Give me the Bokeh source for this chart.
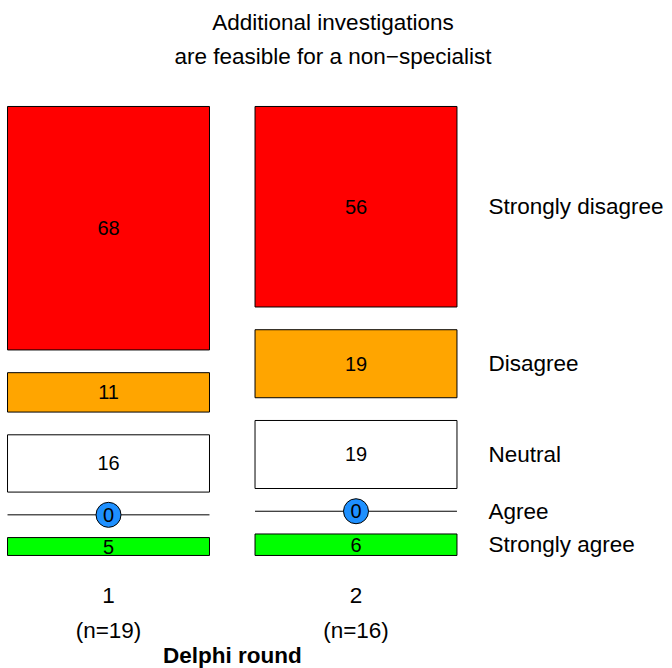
from bokeh.plotting import figure
from bokeh.models import Range1d, ColumnDataSource, Label
from bokeh.core.properties import value
from bokeh.embed import file_html
from bokeh.resources import INLINE

# ---------------- data ----------------
title_lines = ["Additional investigations", "are feasible for a non\u2212specialist"]
categories = ["Strongly agree", "Agree", "Neutral", "Disagree", "Strongly disagree"]
colors = ["#00FF00", "#1E90FF", "#FFFFFF", "#FFA500", "#FF0000"]
rounds = [1, 2]
round_ticks = ["1", "2"]
round_n = ["(n=19)", "(n=16)"]
round1 = [5, 0, 16, 11, 68]
round2 = [6, 0, 19, 19, 56]
x_label = "Delphi round"

# ---------------- layout constants ----------------
GAP = 6.35
BAR_W = 0.816
FONT = "Liberation Sans"

def stack(vals):
    bottoms, tops = [], []
    acc = 0.0
    for i, v in enumerate(vals):
        b = acc + i * GAP
        bottoms.append(b)
        tops.append(b + v)
        acc += v
    return bottoms, tops

bars = dict(left=[], right=[], bottom=[], top=[], color=[], xc=[], yc=[], lab=[])
zeros = dict(x0=[], x1=[], y=[], xc=[], lab=[])
right_y = []
for r, vals in zip(rounds, [round1, round2]):
    bottoms, tops = stack(vals)
    for v, b, t, c in zip(vals, bottoms, tops, colors):
        if v == 0:
            zeros["x0"].append(r - BAR_W / 2)
            zeros["x1"].append(r + BAR_W / 2)
            zeros["y"].append(b)
            zeros["xc"].append(r)
            zeros["lab"].append(str(v))
        else:
            bars["left"].append(r - BAR_W / 2)
            bars["right"].append(r + BAR_W / 2)
            bars["bottom"].append(b)
            bars["top"].append(t)
            bars["color"].append(c)
            bars["xc"].append(r)
            bars["yc"].append((b + t) / 2)
            bars["lab"].append(str(v))
    if r == rounds[-1]:
        right_y = [(b + t) / 2 for b, t in zip(bottoms, tops)]

p = figure(frame_width=672, frame_height=668, output_backend="svg", toolbar_location=None,
           x_range=Range1d(0.5636, 3.2788), y_range=Range1d(-31.57, 155.0),
           x_axis_location=None, y_axis_location=None, title=None,
           min_border_left=0, min_border_right=0, min_border_top=0, min_border_bottom=0)
p.outline_line_color = None
p.grid.visible = False
p.background_fill_color = "white"
p.border_fill_color = "white"

src = ColumnDataSource(bars)
p.quad(left="left", right="right", bottom="bottom", top="top", source=src,
       fill_color="color", line_color="black", line_width=1)
p.text(x="xc", y="yc", text="lab", source=src, text_align="center", text_baseline="middle",
       text_font=value(FONT), text_font_size="20px", text_color="black")

zsrc = ColumnDataSource(zeros)
p.segment(x0="x0", y0="y", x1="x1", y1="y", source=zsrc, line_color="black", line_width=1)
p.scatter(x="xc", y="y", source=zsrc, size=25, fill_color="#1E90FF", line_color="black", line_width=1)
p.text(x="xc", y="y", text="lab", source=zsrc, text_align="center", text_baseline="middle",
       text_font=value(FONT), text_font_size="20px", text_color="black")

# right-hand category labels, at the second round's segment centres
rsrc = ColumnDataSource(dict(x=[2.535] * len(categories), y=right_y, t=categories))
p.text(x="x", y="y", text="t", source=rsrc, text_align="left", text_baseline="middle",
       text_font=value(FONT), text_font_size="22.5px", text_color="black")

# title
for txt, yy in zip(title_lines, [148.86, 139.36]):
    p.add_layout(Label(x=1.907, y=yy, text=txt, text_align="center", text_baseline="middle",
                       text_font=FONT, text_font_size="22.5px", text_color="black"))

# round tick labels below the stacks
tsrc = ColumnDataSource(dict(x=rounds, y1=[-11.18] * len(rounds), y2=[-20.95] * len(rounds),
                             t1=round_ticks, t2=round_n))
p.text(x="x", y="y1", text="t1", source=tsrc, text_align="center", text_baseline="middle",
       text_font=value(FONT), text_font_size="22.5px", text_color="black")
p.text(x="x", y="y2", text="t2", source=tsrc, text_align="center", text_baseline="middle",
       text_font=value(FONT), text_font_size="22.5px", text_color="black")

# axis title, centred between the two rounds
p.add_layout(Label(x=sum(rounds) / len(rounds), y=-27.94, text=x_label, text_align="center",
                   text_baseline="middle", text_font=FONT, text_font_size="22.5px",
                   text_font_style="bold", text_color="black"))

open("out.html", "w").write(file_html(p, INLINE))
